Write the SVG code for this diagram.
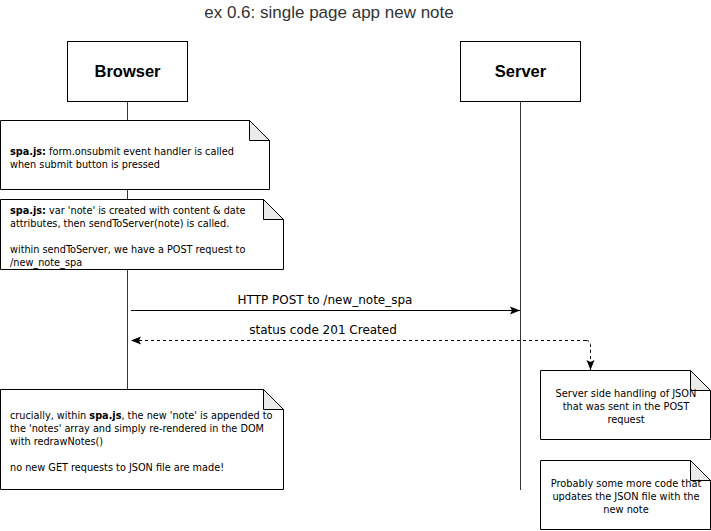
<svg xmlns="http://www.w3.org/2000/svg" width="711" height="531" viewBox="0 0 711 531">
<defs>
<style>
.title{font-family:"Liberation Sans",Arial,sans-serif;font-size:17px;fill:#333;}
.actor rect{fill:#fff;stroke:#000;stroke-width:1;}
.actor text{font-family:"Liberation Sans",Arial,sans-serif;font-size:16.5px;font-weight:bold;fill:#000;text-anchor:middle;}
.life{stroke:#333;stroke-width:1;fill:none;}
.note path.body{fill:#fff;stroke:#000;stroke-width:1;}
.note path.fold{fill:#ebebeb;stroke:#000;stroke-width:1;}
.note text{font-family:"DejaVu Sans Condensed","DejaVu Sans",sans-serif;font-size:10.8px;fill:#000;}
.note text.c{text-anchor:middle;font-size:10.9px;}
.msg{stroke:#000;stroke-width:1;fill:none;}
.dash{stroke-dasharray:3 3;}
.lbl{font-family:"DejaVu Sans",sans-serif;font-size:12px;fill:#000;text-anchor:middle;}
</style>
<marker id="arr" viewBox="0 0 10 10" refX="10" refY="5" markerWidth="10" markerHeight="10" markerUnits="userSpaceOnUse" orient="auto">
<path d="M0,1 L10,5 L0,9 L2,5 Z" fill="#000"/>
</marker>
</defs>
<rect width="711" height="531" fill="#fff"/>
<text class="title" x="329" y="18" text-anchor="middle">ex 0.6: single page app new note</text>

<g id="lifelines">
<line class="life" x1="127.5" y1="101" x2="127.5" y2="390"/>
<line class="life" x1="520.5" y1="101" x2="520.5" y2="490"/>
</g>

<g id="browser" class="actor">
<rect x="67.5" y="41.5" width="120" height="60"/>
<text x="127.5" y="77">Browser</text>
</g>
<g id="server" class="actor">
<rect x="460.5" y="41.5" width="120" height="60"/>
<text x="520.5" y="77">Server</text>
</g>

<g id="note1" class="note">
<path class="body" d="M0.5,120.5 H249.5 L269.5,140.5 V189.5 H0.5 Z"/>
<path class="fold" d="M249.5,120.5 V140.5 H269.5 Z"/>
<text x="10" y="155"><tspan font-weight="bold">spa.js:</tspan> form.onsubmit event handler is called</text>
<text x="10" y="168">when submit button is pressed</text>
</g>

<g id="note2" class="note">
<path class="body" d="M0.5,199.5 H263.5 L283.5,219.5 V269.5 H0.5 Z"/>
<path class="fold" d="M263.5,199.5 V219.5 H283.5 Z"/>
<text x="10" y="214"><tspan font-weight="bold">spa.js:</tspan> var 'note' is created with content &amp; date</text>
<text x="10" y="227">attributes, then sendToServer(note) is called.</text>
<text x="10" y="253">within sendToServer, we have a POST request to</text>
<text x="10" y="266">/new_note_spa</text>
</g>

<g id="note3" class="note">
<path class="body" d="M0.5,389.5 H263.5 L283.5,409.5 V489.5 H0.5 Z"/>
<path class="fold" d="M263.5,389.5 V409.5 H283.5 Z"/>
<text x="10" y="419">crucially, within <tspan font-weight="bold">spa.js</tspan>, the new 'note' is appended to</text>
<text x="10" y="432">the 'notes' array and simply re-rendered in the DOM</text>
<text x="10" y="445">with redrawNotes()</text>
<text x="10" y="471">no new GET requests to JSON file are made!</text>
</g>

<g id="note4" class="note">
<path class="body" d="M540.5,370.5 H690.5 L710.5,390.5 V439.5 H540.5 Z"/>
<path class="fold" d="M690.5,370.5 V390.5 H710.5 Z"/>
<text class="c" x="626" y="397">Server side handling of JSON</text>
<text class="c" x="626" y="410">that was sent in the POST</text>
<text class="c" x="626" y="423">request</text>
</g>

<g id="note5" class="note">
<path class="body" d="M540.5,460.5 H690.5 L710.5,480.5 V529.5 H540.5 Z"/>
<path class="fold" d="M690.5,460.5 V480.5 H710.5 Z"/>
<text class="c" x="626" y="487">Probably some more code that</text>
<text class="c" x="626" y="500">updates the JSON file with the</text>
<text class="c" x="626" y="513">new note</text>
</g>

<g id="connectors">
<line class="msg" x1="131" y1="310.5" x2="520" y2="310.5" marker-end="url(#arr)"/>
<text class="lbl" x="325" y="304">HTTP POST to /new_note_spa</text>
<line class="msg dash" x1="586" y1="340.5" x2="131" y2="340.5" marker-end="url(#arr)"/>
<text class="lbl" x="323" y="334">status code 201 Created</text>
<path class="msg dash" d="M586,340.5 Q590.5,340.5 590.5,345 V370" marker-end="url(#arr)"/>
</g>
</svg>
